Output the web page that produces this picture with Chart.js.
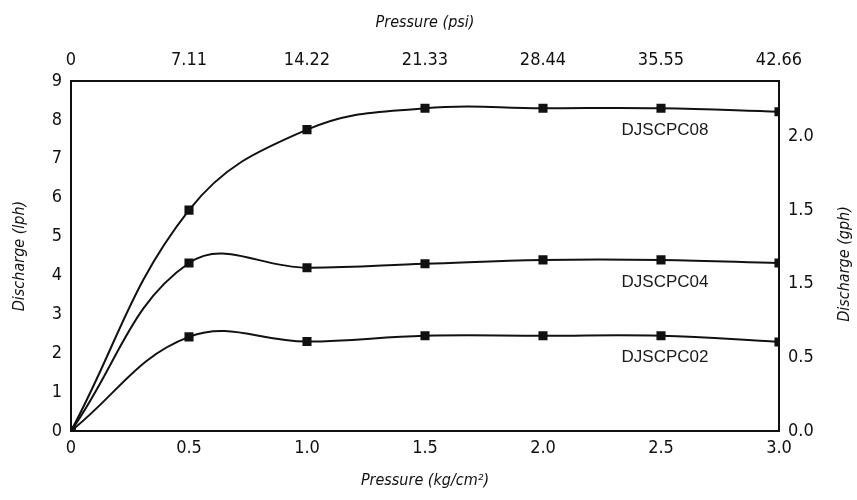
<!DOCTYPE html>
<html>
<head>
<meta charset="utf-8">
<script src="https://cdn.jsdelivr.net/npm/chart.js@4"></script>
<style>
  html, body { margin: 0; padding: 0; background: #fff; }
  #wrap { width: 857px; height: 500px; }
</style>
</head>
<body>
<div id="wrap"><canvas id="chart" width="857" height="500"></canvas></div>
<script>
// dados
const pressure = [0, 0.5, 1.0, 1.5, 2.0, 2.5, 3.0];
const djscpc08 = [0, 5.68, 7.75, 8.3, 8.3, 8.3, 8.21];
const djscpc04 = [0, 4.32, 4.2, 4.3, 4.4, 4.4, 4.32];
const djscpc02 = [0, 2.42, 2.3, 2.45, 2.45, 2.45, 2.29];
const seriesNames = ["DJSCPC08", "DJSCPC04", "DJSCPC02"];

// eixos secundarios
const psiTicks = [0, 7.11, 14.22, 21.33, 28.44, 35.55, 42.66];
const gphTicks = [0, 0.5, 1.0, 1.5, 2.0];
const gphLabels = ["0.0", "0.5", "1.5", "1.5", "2.0"];
const lphPerGph = 3.785;

const FONT = '"Liberation Sans Narrow", "DejaVu Sans Condensed", "Liberation Sans", sans-serif';

function toPoints(ys) {
  return pressure.map(function (x, i) { return { x: x, y: ys[i] }; });
}

function lineDataset(label, ys) {
  return {
    label: label,
    data: toPoints(ys),
    borderColor: "#111",
    backgroundColor: "#111",
    borderWidth: 2,
    tension: 0.4,
    pointStyle: "rect",
    pointRadius: 5,
    pointHoverRadius: 5,
    fill: false,
    xAxisID: "x",
    yAxisID: "y"
  };
}

// rotulos das series e titulo do eixo direito
const labelsPlugin = {
  id: "labelsPlugin",
  afterDatasetsDraw: function (chart) {
    const ctx = chart.ctx;
    const xs = chart.scales.x;
    const ys = chart.scales.y;
    ctx.save();
    ctx.fillStyle = "#1a1a1a";
    ctx.font = '17px "Liberation Sans", Arial, sans-serif';
    ctx.textAlign = "center";
    ctx.textBaseline = "middle";
    chart.data.datasets.forEach(function (ds) {
      const p = ds.data[5];
      ctx.fillText(ds.label, xs.getPixelForValue(p.x) + 4, ys.getPixelForValue(p.y) + 22);
    });
    // titulo direito (lido de baixo para cima)
    ctx.fillStyle = "#111";
    ctx.font = "italic 16px " + FONT;
    ctx.translate(845, (chart.chartArea.top + chart.chartArea.bottom) / 2 + 8);
    ctx.rotate(-Math.PI / 2);
    ctx.fillText("Discharge (gph)", 0, 0);
    ctx.restore();
  }
};

const tickFont = { family: FONT, size: 18 };
const titleFont = { family: FONT, size: 16, style: "italic" };

new Chart(document.getElementById("chart"), {
  type: "line",
  data: {
    datasets: [
      lineDataset(seriesNames[0], djscpc08),
      lineDataset(seriesNames[1], djscpc04),
      lineDataset(seriesNames[2], djscpc02)
    ]
  },
  options: {
    responsive: false,
    animation: false,
    layout: { padding: 0 },
    plugins: { legend: { display: false }, tooltip: { enabled: false } },
    scales: {
      x: {
        type: "linear",
        position: "bottom",
        min: 0,
        max: 3.0,
        afterBuildTicks: function (s) {
          s.ticks = pressure.map(function (v) { return { value: v }; });
        },
        afterFit: function (s) { s.height = 69; },
        ticks: {
          color: "#111",
          font: tickFont,
          padding: 2,
          maxRotation: 0,
          callback: function (v) { return v === 0 ? "0" : v.toFixed(1); }
        },
        grid: { display: false, drawTicks: true, tickLength: 5, color: "#111" },
        border: { color: "#111", width: 2 },
        title: { display: true, text: "Pressure (kg/cm²)", color: "#111", font: titleFont, padding: { top: 8, bottom: 10 } }
      },
      x2: {
        type: "linear",
        position: "top",
        min: 0,
        max: 42.66,
        afterBuildTicks: function (s) {
          s.ticks = psiTicks.map(function (v) { return { value: v }; });
        },
        afterFit: function (s) { s.height = 81; },
        ticks: {
          color: "#111",
          font: tickFont,
          padding: 4,
          maxRotation: 0,
          callback: function (v) { return String(v); }
        },
        grid: { display: false, drawTicks: true, tickLength: 6, color: "#111" },
        border: { color: "#111", width: 2 },
        title: { display: true, text: "Pressure (psi)", color: "#111", font: titleFont, padding: { top: 13, bottom: 14 } }
      },
      y: {
        type: "linear",
        position: "left",
        min: 0,
        max: 9,
        afterFit: function (s) { s.width = 71; },
        ticks: { color: "#111", font: tickFont, stepSize: 1, padding: 4 },
        grid: { display: false, drawTicks: true, tickLength: 5, color: "#111" },
        border: { color: "#111", width: 2 },
        title: { display: true, text: "Discharge (lph)", color: "#111", font: titleFont, padding: { top: 10, bottom: 6 } }
      },
      y2: {
        type: "linear",
        position: "right",
        min: 0,
        max: 9 / lphPerGph,
        afterBuildTicks: function (s) {
          s.ticks = gphTicks.map(function (v) { return { value: v }; });
        },
        afterFit: function (s) { s.width = 78; },
        ticks: {
          color: "#111",
          font: tickFont,
          padding: 4,
          callback: function (v, i) { return gphLabels[i]; }
        },
        grid: { display: false, drawTicks: true, tickLength: 5, color: "#111" },
        border: { color: "#111", width: 2 }
      }
    }
  },
  plugins: [labelsPlugin]
});
</script>
</body>
</html>
